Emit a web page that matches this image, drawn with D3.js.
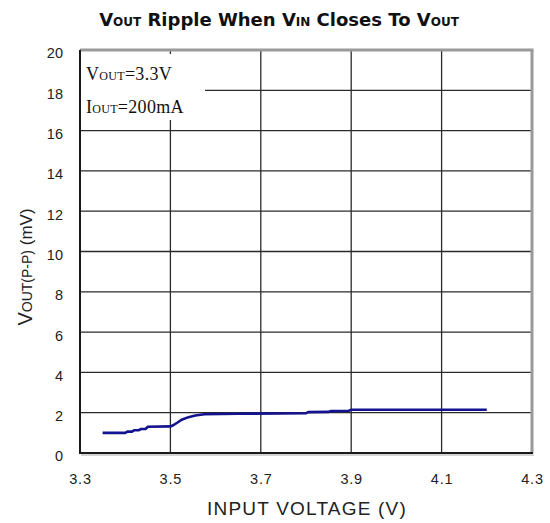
<!DOCTYPE html>
<html>
<head>
<meta charset="utf-8">
<script src="https://cdn.jsdelivr.net/npm/d3@7"></script>
<style>
  html, body { margin: 0; padding: 0; background: #fff; }
  svg { display: block; }
</style>
</head>
<body>
<svg id="chart" width="550" height="523"></svg>
<script>
// Ripple measurement: input voltage (V) vs output ripple peak-to-peak (mV)
const inputVoltage = [3.35, 3.40, 3.405, 3.415, 3.42, 3.43, 3.435, 3.445, 3.45, 3.50, 3.505, 3.515,
                      3.525, 3.54, 3.555, 3.575, 3.65, 3.80, 3.805, 3.85, 3.855, 3.895, 3.90, 4.20];
const rippleMv     = [1.00, 1.00, 1.06, 1.06, 1.13, 1.13, 1.19, 1.19, 1.30, 1.32, 1.36, 1.50,
                      1.65, 1.78, 1.86, 1.92, 1.95, 1.97, 2.03, 2.04, 2.08, 2.10, 2.15, 2.15];

const xTicks = [3.3, 3.5, 3.7, 3.9, 4.1, 4.3];
const yTicks = [0, 2, 4, 6, 8, 10, 12, 14, 16, 18, 20];

const svg = d3.select("#chart");
const plot = { left: 80, right: 532, top: 50, bottom: 453 };

const x = d3.scaleLinear().domain([3.3, 4.3]).range([plot.left, plot.right]);
const y = d3.scaleLinear().domain([0, 20]).range([plot.bottom, plot.top]);

// Grid
const grid = svg.append("g").attr("stroke", "#2b2b2b").attr("stroke-width", 1.3);
grid.selectAll(".gx").data(xTicks.slice(1, -1)).enter().append("line")
  .attr("x1", d => x(d)).attr("x2", d => x(d))
  .attr("y1", plot.top).attr("y2", plot.bottom);
grid.selectAll(".gy").data(yTicks.slice(1, -1)).enter().append("line")
  .attr("x1", plot.left).attr("x2", plot.right)
  .attr("y1", d => y(d)).attr("y2", d => y(d));

// Legend box covering the grid in the top-left corner
svg.append("rect")
  .attr("x", plot.left + 1).attr("y", plot.top + 4)
  .attr("width", 124).attr("height", 66)
  .attr("fill", "#fff");

const legend = svg.append("g")
  .attr("font-family", "'Liberation Serif', 'Times New Roman', serif")
  .attr("fill", "#111");
function legendLine(yPos, main, sub, rest) {
  const t = legend.append("text").attr("x", 86).attr("y", yPos)
    .attr("font-size", 18).attr("letter-spacing", 0.3);
  t.append("tspan").text(main);
  t.append("tspan").attr("font-size", 12).text(sub);
  t.append("tspan").text(rest);
}
legendLine(80, "V", "OUT", "=3.3V");
legendLine(113, "I", "OUT", "=200mA");

// Frame: gray top/right, dark left/bottom
svg.append("line").attr("x1", plot.left).attr("x2", plot.right + 1.5)
  .attr("y1", plot.top).attr("y2", plot.top)
  .attr("stroke", "#9a9a9a").attr("stroke-width", 3);
svg.append("line").attr("x1", plot.right).attr("x2", plot.right)
  .attr("y1", plot.top).attr("y2", plot.bottom)
  .attr("stroke", "#9a9a9a").attr("stroke-width", 3);
svg.append("line").attr("x1", plot.left).attr("x2", plot.left)
  .attr("y1", plot.top).attr("y2", plot.bottom + 1)
  .attr("stroke", "#1a1a1a").attr("stroke-width", 2);
svg.append("line").attr("x1", plot.left).attr("x2", plot.right + 1)
  .attr("y1", plot.bottom).attr("y2", plot.bottom)
  .attr("stroke", "#1a1a1a").attr("stroke-width", 2);
svg.append("line").attr("x1", plot.left + 1).attr("x2", plot.right + 2)
  .attr("y1", plot.bottom + 2).attr("y2", plot.bottom + 2)
  .attr("stroke", "#aaa").attr("stroke-width", 1.2);

// Ripple curve
const pts = inputVoltage.map((v, i) => [v, rippleMv[i]]);
svg.append("path")
  .datum(pts)
  .attr("fill", "none")
  .attr("stroke", "#131390")
  .attr("stroke-width", 2.6)
  .attr("d", d3.line().x(d => x(d[0])).y(d => y(d[1])));

// Axes tick labels
const axisFont = "'Liberation Sans', Arial, sans-serif";
const yAxis = d3.axisLeft(y).tickValues(yTicks).tickSize(0).tickPadding(17)
  .tickFormat(d3.format("d"));
const gy = svg.append("g").attr("transform", `translate(${plot.left},0)`).call(yAxis);
gy.select(".domain").remove();
gy.selectAll("text").attr("font-family", axisFont).attr("font-size", 14.5)
  .attr("fill", "#222").attr("dy", "0.55em");

const xAxis = d3.axisBottom(x).tickValues(xTicks).tickSize(0).tickPadding(21)
  .tickFormat(d3.format(".1f"));
const gx = svg.append("g").attr("transform", `translate(0,${plot.bottom})`).call(xAxis);
gx.select(".domain").remove();
gx.selectAll("text").attr("font-family", axisFont).attr("font-size", 14.5)
  .attr("fill", "#222").attr("letter-spacing", 0.8);

// Axis titles
svg.append("text")
  .attr("x", 307).attr("y", 515)
  .attr("text-anchor", "middle")
  .attr("font-family", axisFont).attr("font-size", 19)
  .attr("letter-spacing", 1.2)
  .attr("fill", "#222")
  .text("INPUT VOLTAGE (V)");

const yTitle = svg.append("text")
  .attr("transform", "translate(32,267) rotate(-90)")
  .attr("text-anchor", "middle")
  .attr("font-family", axisFont).attr("fill", "#222");
yTitle.append("tspan").attr("font-size", 20).text("V");
yTitle.append("tspan").attr("font-size", 14).text("OUT(P-P)");
yTitle.append("tspan").attr("font-size", 17).text(" (mV)");

// Title
const title = svg.append("text")
  .attr("x", 279).attr("y", 26)
  .attr("text-anchor", "middle")
  .attr("font-family", "'DejaVu Sans', sans-serif")
  .attr("font-weight", "bold").attr("fill", "#111");
[["V", 18], ["OUT", 12], [" Ripple When ", 18], ["V", 18], ["IN", 12],
 [" Closes To ", 18], ["V", 18], ["OUT", 12]].forEach(([s, fs]) => {
  title.append("tspan").attr("font-size", fs).text(s);
});
</script>
</body>
</html>
